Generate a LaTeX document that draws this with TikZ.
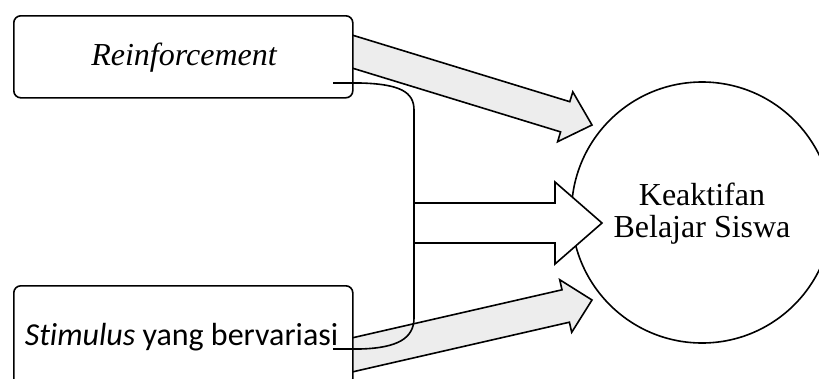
\documentclass[tikz,border=0pt]{standalone}
\usepackage{fontspec}
\setmainfont{Liberation Serif}[Ligatures=NoCommon]
\newfontfamily\calibri{Carlito}[Ligatures=NoCommon]
\begin{document}
\begin{tikzpicture}[x=1pt,y=-1pt, line width=1.6pt, line join=miter,
  box/.style={draw, rounded corners=7pt, fill=white, inner sep=0pt, minimum width=339pt},
  lbl/.style={font=\fontsize{32}{34}\selectfont, inner sep=0pt},
  stip/.style={draw, fill=black!7},
  blk/.style={draw, fill=white},
]
\useasboundingbox (0,0) rectangle (819,378);
% side arrows (shaded)
\coordinate (ta) at (352,35);
\coordinate (tb) at (352,68);
\filldraw[stip] (ta) -- (569.8,101.7) -- (572.8,91.9) -- (592,125) -- (557.6,141.7) -- (560.6,131.9) -- (tb);
\coordinate (ba) at (352,337.9);
\coordinate (bb) at (352,372);
\filldraw[stip] (ba) -- (562,289.8) -- (559.7,279.7) -- (592,300) -- (571.7,332.3) -- (569.4,322.2) -- (bb);
% boxes
\node[box, minimum height=82pt, anchor=north west] (rbox) at (13,15) {};
\node[lbl, anchor=base] (rtext) at (184,65) {\itshape Reinforcement};
\node[box, minimum height=100pt, anchor=north west] (sbox) at (13,285) {};
\node[lbl, anchor=base] (stext) at (181.5,345) {\calibri{\itshape Stimulus} yang bervariasi};
% circle
\node[circle, draw, minimum size=261pt, inner sep=0pt] (circ) at (702,212.5) {};
\node[lbl, anchor=base] (k1) at (702,205) {Keaktifan};
\node[lbl, anchor=base] (k2) at (702,237) {Belajar Siswa};
% middle arrow
\coordinate (ma) at (414,203);
\coordinate (mb) at (414,243);
\filldraw[blk] (ma) -- (555,203) -- (555,182) -- (602,223) -- (555,264) -- (555,243) -- (mb);
% bracket
\draw (333,83) -- (360,83) .. controls (400,84) and (414,92) .. (414,110)
  -- (414,318) .. controls (414,338) and (398,348) .. (360,349) -- (333,349);
\end{tikzpicture}
\end{document}
